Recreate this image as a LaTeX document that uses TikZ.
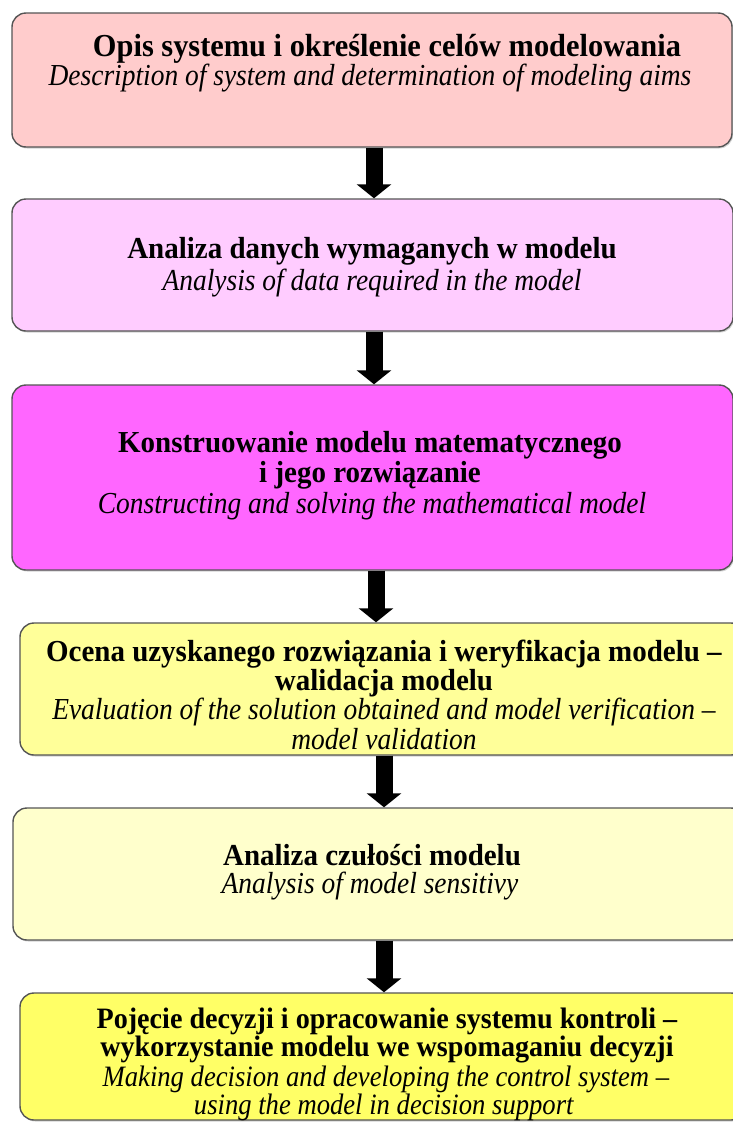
\documentclass[tikz,border=0pt]{standalone}
\usepackage{fontspec}
\setmainfont{Liberation Serif}[BoldFeatures={FakeStretch=0.95},ItalicFeatures={FakeStretch=0.90}]
\usetikzlibrary{arrows.meta,shadows}
\definecolor{c1}{HTML}{FFCCCC}
\definecolor{c2}{HTML}{FFCCFF}
\definecolor{c3}{HTML}{FF66FF}
\definecolor{c4}{HTML}{FFFF99}
\definecolor{c5}{HTML}{FFFFCC}
\definecolor{c6}{HTML}{FFFF66}
\definecolor{edge}{HTML}{555555}
\tikzset{
  box/.style={draw=edge, line width=1.4pt, rounded corners=14pt, inner sep=0pt,
    drop shadow={shadow xshift=1.2pt, shadow yshift=-1.5pt, opacity=0.35}},
  txt/.style={align=center, anchor=base, font=\fontsize{30.5}{34}\selectfont, inner sep=0pt},
  bigtxt/.style={txt, font=\fontsize{32}{35}\selectfont},
  smalltxt/.style={txt, font=\fontsize{29.6}{33}\selectfont},
  bigarrow/.style={line width=17pt, -{Triangle[width=34pt,length=14pt]}, black},
}
\begin{document}
\begin{tikzpicture}[x=1pt,y=-1pt]
\useasboundingbox (0,0) rectangle (733,1122);
\node[box, fill=c1, minimum width=720pt, minimum height=134pt] (b1) at (372,80) {};
\node[box, fill=c2, minimum width=721pt, minimum height=132pt] (b2) at (372.5,265) {};
\node[box, fill=c3, minimum width=721pt, minimum height=185pt] (b3) at (372.5,477.5) {};
\node[box, fill=c4, minimum width=725pt, minimum height=132pt] (b4) at (382.5,689) {};
\node[box, fill=c5, minimum width=732pt, minimum height=132pt] (b5) at (379,874) {};
\node[box, fill=c6, minimum width=725pt, minimum height=127pt] (b6) at (382.5,1056.5) {};

\node[bigtxt] (t1a) at (387,56) {\textbf{Opis systemu i określenie celów modelowania}};
\node[txt] (t1b) at (370,85) {\textit{Description of system and determination of modeling aims}};

\node[txt] (t2a) at (372,258) {\textbf{Analiza danych wymaganych w modelu}};
\node[txt] (t2b) at (372,290) {\textit{Analysis of data required in the model}};

\node[txt] (t3a) at (370,452) {\textbf{Konstruowanie modelu matematycznego}};
\node[txt] (t3b) at (370,482) {\textbf{i jego rozwiązanie}};
\node[txt] (t3c) at (372,513) {\textit{Constructing and solving the mathematical model}};

\node[txt] (t4a) at (384,661) {\textbf{Ocena uzyskanego rozwiązania i weryfikacja modelu –}};
\node[txt] (t4b) at (384,690) {\textbf{walidacja modelu}};
\node[txt] (t4c) at (384,719) {\textit{Evaluation of the solution obtained and model verification –}};
\node[txt] (t4d) at (384,749) {\textit{model validation}};

\node[txt] (t5a) at (372,865) {\textbf{Analiza czułości modelu}};
\node[txt] (t5b) at (370,893) {\textit{Analysis of model sensitivy}};

\node[smalltxt] (t6a) at (387,1028) {\textbf{Pojęcie decyzji i opracowanie systemu kontroli –}};
\node[smalltxt] (t6b) at (387,1056) {\textbf{wykorzystanie modelu we wspomaganiu decyzji}};
\node[smalltxt] (t6c) at (386,1086) {\textit{Making decision and developing the control system –}};
\node[smalltxt] (t6d) at (384,1114) {\textit{using the model in decision support}};

\coordinate (x1) at (374,0);
\coordinate (x2) at (374,0);
\coordinate (x3) at (376,0);
\coordinate (x4) at (384,0);
\coordinate (x5) at (384,0);
\draw[bigarrow] (b1.south -| x1) -- (b2.north -| x1);
\draw[bigarrow] (b2.south -| x2) -- (b3.north -| x2);
\draw[bigarrow] (b3.south -| x3) -- (b4.north -| x3);
\draw[bigarrow] (b4.south -| x4) -- (b5.north -| x4);
\draw[bigarrow] (b5.south -| x5) -- (b6.north -| x5);
\end{tikzpicture}
\end{document}
